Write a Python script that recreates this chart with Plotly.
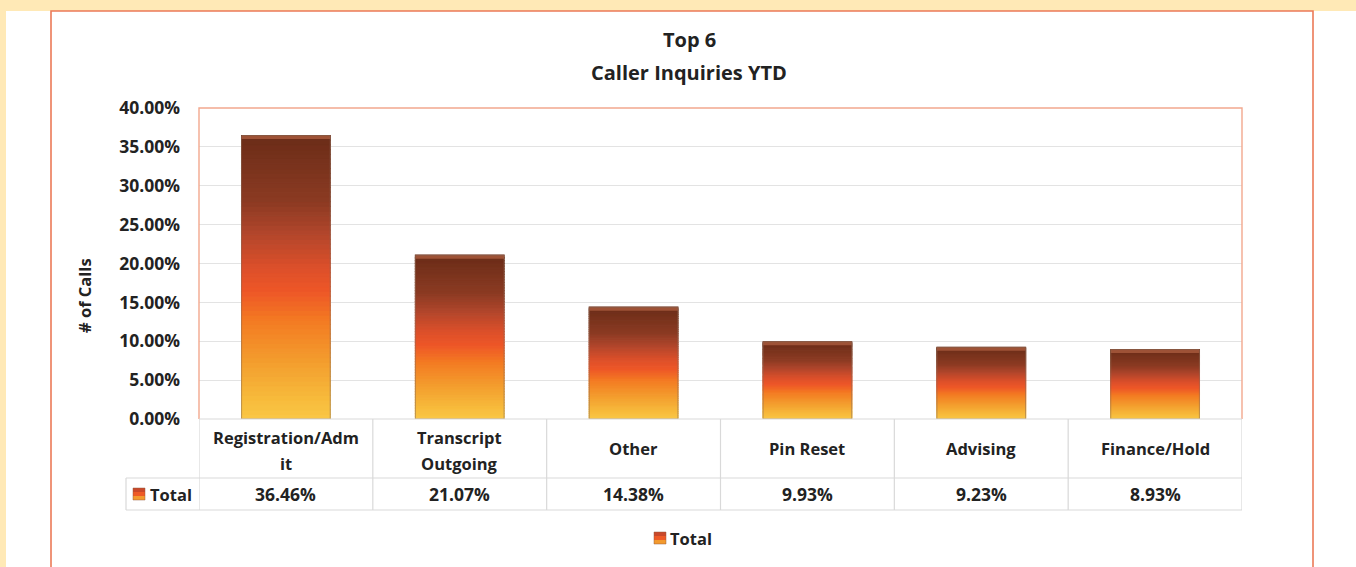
import plotly.graph_objects as go

# ---------------- data ----------------
categories = ["Registration/Admit", "Transcript Outgoing", "Other", "Pin Reset", "Advising", "Finance/Hold"]
header_lines = [["Registration/Adm", "it"], ["Transcript", "Outgoing"], ["Other"], ["Pin Reset"], ["Advising"], ["Finance/Hold"]]
values = [0.3646, 0.2107, 0.1438, 0.0993, 0.0923, 0.0893]
series_name = "Total"
title_lines = ["Top 6", "Caller Inquiries YTD"]
y_title = "# of Calls"
y_ticks = [0, 0.05, 0.10, 0.15, 0.20, 0.25, 0.30, 0.35, 0.40]

# ---------------- geometry (pixels) ----------------
W, H = 1356, 567
PL, PR, PT, PB = 199, 1242, 108, 419
PW, PH = PR - PL, PB - PT


def px(x):
    return (x - PL) / PW


def py(y):
    return (PB - y) / PH


FONT = "Open Sans"
TXT = "#222222"

# gradient stops (fraction from bottom, colour)
stops = [(0.0, (250, 200, 70)), (0.07, (247, 187, 60)), (0.21, (243, 156, 45)),
         (0.35, (243, 122, 34)), (0.45, (238, 87, 39)), (0.54, (219, 79, 42)),
         (0.66, (176, 69, 43)), (0.77, (139, 58, 34)), (0.95, (114, 47, 26)),
         (1.0, (107, 44, 24))]


def grad(f):
    for (f0, c0), (f1, c1) in zip(stops[:-1], stops[1:]):
        if f0 <= f <= f1:
            t = (f - f0) / (f1 - f0) if f1 > f0 else 0
            c = [round(a + (b - a) * t) for a, b in zip(c0, c1)]
            return "rgb(%d,%d,%d)" % tuple(c)
    return "rgb(%d,%d,%d)" % stops[-1][1]


N = 60
seg_x, seg_y, seg_base, seg_col = [], [], [], []
for c, v in zip(categories, values):
    for i in range(N):
        seg_x.append(c)
        seg_y.append(v / N)
        seg_base.append(v * i / N)
        seg_col.append(grad((i + 0.5) / N))

fig = go.Figure()
fig.add_trace(go.Bar(x=seg_x, y=seg_y, base=seg_base, width=0.51,
                     marker=dict(color=seg_col, line=dict(width=1.2, color=seg_col)),
                     showlegend=False, hoverinfo="skip"))
# top bevel cap
cap = 0.0045
fig.add_trace(go.Bar(x=categories, y=[cap] * len(values), base=[v - cap for v in values], width=0.51,
                     marker=dict(color="#9E5236", line=dict(width=0)),
                     showlegend=False, hoverinfo="skip"))
# outline
fig.add_trace(go.Bar(x=categories, y=values, width=0.51, name=series_name,
                     marker=dict(color="rgba(0,0,0,0)", line=dict(color="rgba(140,110,90,0.55)", width=1)),
                     showlegend=False))

shapes = []
shapes.append(dict(type="rect", xref="paper", yref="paper", x0=px(6), x1=px(W + 5), y0=py(11), y1=py(H + 5),
                   fillcolor="white", line=dict(width=0), layer="below"))
shapes.append(dict(type="rect", xref="paper", yref="paper", x0=px(51), x1=px(1313), y0=py(11), y1=py(H + 10),
                   fillcolor="rgba(0,0,0,0)", line=dict(color="#EC7A58", width=1.6), layer="below"))
shapes.append(dict(type="path", xref="paper", yref="paper",
                   path="M 0 0 L 0 1 L 1 1 L 1 0",
                   line=dict(color="#F2A88E", width=1.4), layer="above"))

GRID = "#D9D9D9"
row1, row2 = 478, 510
shapes.append(dict(type="line", xref="paper", yref="paper", x0=0, x1=1, y0=0, y1=0,
                   line=dict(color=GRID, width=1.2)))
for yy in (row1, row2):
    shapes.append(dict(type="line", xref="paper", yref="paper", x0=px(126), x1=1, y0=py(yy), y1=py(yy),
                       line=dict(color=GRID, width=1.2)))
for k in range(len(categories) + 1):
    shapes.append(dict(type="line", xref="x", yref="paper", x0=k - 0.5, x1=k - 0.5, y0=0, y1=py(row2),
                       line=dict(color=GRID, width=1.2)))
shapes.append(dict(type="line", xref="paper", yref="paper", x0=px(126), x1=px(126), y0=py(row1), y1=py(row2),
                   line=dict(color=GRID, width=1.2)))


def key_square(x0, yc, size=12):
    out = []
    cols = ["#C9482A", "#EE5A26", "#F39A2E"]
    for j, col in enumerate(cols):
        y_top = yc - size / 2 + j * size / 3
        out.append(dict(type="rect", xref="paper", yref="paper", x0=px(x0), x1=px(x0 + size),
                        y0=py(y_top + size / 3), y1=py(y_top), fillcolor=col, line=dict(width=0)))
    out.append(dict(type="rect", xref="paper", yref="paper", x0=px(x0), x1=px(x0 + size),
                    y0=py(yc + size / 2), y1=py(yc - size / 2), fillcolor="rgba(0,0,0,0)",
                    line=dict(color="rgba(150,90,60,0.6)", width=0.8)))
    return out


shapes += key_square(133, 494)
shapes += key_square(654, 538)

ann = []


def f(size):
    return dict(family=FONT, size=size, color=TXT)


ann.append(dict(text="<b>%s</b>" % title_lines[0], xref="paper", yref="paper", x=px(689), y=py(40),
                showarrow=False, font=f(20), xanchor="center", yanchor="middle"))
ann.append(dict(text="<b>%s</b>" % title_lines[1], xref="paper", yref="paper", x=px(689), y=py(72),
                showarrow=False, font=f(20), xanchor="center", yanchor="middle"))
ann.append(dict(text="<b>%s</b>" % y_title, xref="paper", yref="paper", x=px(84), y=py(296), textangle=-90,
                showarrow=False, font=f(16.5), xanchor="center", yanchor="middle"))
for c, lines in zip(categories, header_lines):
    ys = [448] if len(lines) == 1 else [437, 463]
    for t, yy in zip(lines, ys):
        ann.append(dict(text="<b>%s</b>" % t, xref="x", yref="paper", x=c, y=py(yy), showarrow=False,
                        font=f(16.5), xanchor="center", yanchor="middle"))
for c, v in zip(categories, values):
    ann.append(dict(text="<b>%.2f%%</b>" % (v * 100), xref="x", yref="paper", x=c, y=py(494), showarrow=False,
                    font=f(17.5), xanchor="center", yanchor="middle"))
ann.append(dict(text="<b>%s</b>" % series_name, xref="paper", yref="paper", x=px(148), y=py(494), showarrow=False,
                font=f(16.5), xanchor="left", yanchor="middle"))
ann.append(dict(text="<b>%s</b>" % series_name, xref="paper", yref="paper", x=px(668), y=py(538), showarrow=False,
                font=f(16.5), xanchor="left", yanchor="middle"))

fig.update_layout(
    width=W, height=H,
    margin=dict(l=PL, r=W - PR, t=PT, b=H - PB, pad=0),
    paper_bgcolor="#FFE9B6",
    plot_bgcolor="rgba(0,0,0,0)",
    barmode="overlay",
    showlegend=False,
    shapes=shapes,
    annotations=ann,
    font=dict(family=FONT, color=TXT),
    xaxis=dict(type="category", categoryorder="array", categoryarray=categories, range=[-0.5, len(categories) - 0.5],
               showticklabels=False, showgrid=False, zeroline=False, showline=False, ticks=""),
    yaxis=dict(range=[0, 0.40], tickvals=y_ticks, tickformat=".2%", showgrid=True, gridcolor="#E3E3E3",
               gridwidth=1, zeroline=False, showline=False, ticks="", ticklabelstandoff=18,
               tickfont=dict(family=FONT, size=17.5, color=TXT, weight="bold")),
)

fig.write_html("out.html", config={"displayModeBar": False},
               post_script="document.body.style.margin='0';document.body.style.overflow='hidden';")
